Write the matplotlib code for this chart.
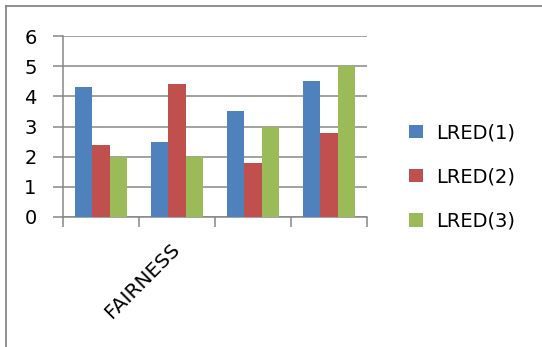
import matplotlib
matplotlib.use("Agg")
import matplotlib.pyplot as plt
from matplotlib.lines import Line2D
import numpy as np

categories = ["", "FAIRNESS", "", ""]
series_names = ["LRED(1)", "LRED(2)", "LRED(3)"]
lred1 = [4.3, 2.5, 3.5, 4.5]
lred2 = [2.4, 4.4, 1.8, 2.8]
lred3 = [2.0, 2.0, 3.0, 5.0]
colors = ["#4F81BD", "#C0504D", "#9BBB59"]
yticks = [0, 1, 2, 3, 4, 5, 6]

plt.rcParams['font.family'] = ['DejaVu Sans']

W, H = 542, 347
fig = plt.figure(figsize=(W / 100, H / 100), dpi=100)
ax = fig.add_axes([63 / W, 1 - 217 / H, (367 - 63) / W, (217 - 36) / H])

x = np.arange(len(categories))
bw = 0.224
grid_c = "#878787"
for i, (vals, name, c) in enumerate(zip([lred1, lred2, lred3], series_names, colors)):
    ax.bar(x + (i - 1) * bw, vals, width=bw, color=c, label=name, zorder=3)

ax.set_xlim(-0.5, 3.5)
ax.set_ylim(0, 6)
ax.set_yticks(yticks)
ax.set_yticklabels([str(v) for v in yticks], fontsize=14)
ax.yaxis.grid(True, color=grid_c, linewidth=1.1, zorder=0)
ax.set_axisbelow(True)

ax.set_xticks(x)
ax.set_xticklabels(categories, fontsize=14.5, rotation=45, ha='right', va='center',
                   rotation_mode='anchor')
ax.set_xticks(np.arange(-0.5, 4.0, 1.0), minor=True)
ax.tick_params(axis='x', which='major', length=0, pad=21)
ax.tick_params(axis='x', which='minor', length=7, color=grid_c, width=1.1)
ax.tick_params(axis='y', length=7, color=grid_c, width=1.1, pad=12)

for s in ['top', 'right']:
    ax.spines[s].set_visible(False)
for s in ['left', 'bottom']:
    ax.spines[s].set_color(grid_c)
    ax.spines[s].set_linewidth(1.1)

fig.legend(loc='center left', bbox_to_anchor=(409 / W, 1 - 177 / H),
           bbox_transform=fig.transFigure, frameon=False, fontsize=14,
           handlelength=0.7, handleheight=0.7, handletextpad=0.7,
           labelspacing=1.3, borderpad=0, borderaxespad=0)

fig.add_artist(Line2D([6 / W, 1], [1 - 6 / H, 1 - 6 / H], transform=fig.transFigure,
                      color=grid_c, linewidth=1.3))
fig.add_artist(Line2D([6 / W, 6 / W], [0, 1 - 6 / H], transform=fig.transFigure,
                      color=grid_c, linewidth=1.3))

fig.savefig("out.png", dpi=100)
